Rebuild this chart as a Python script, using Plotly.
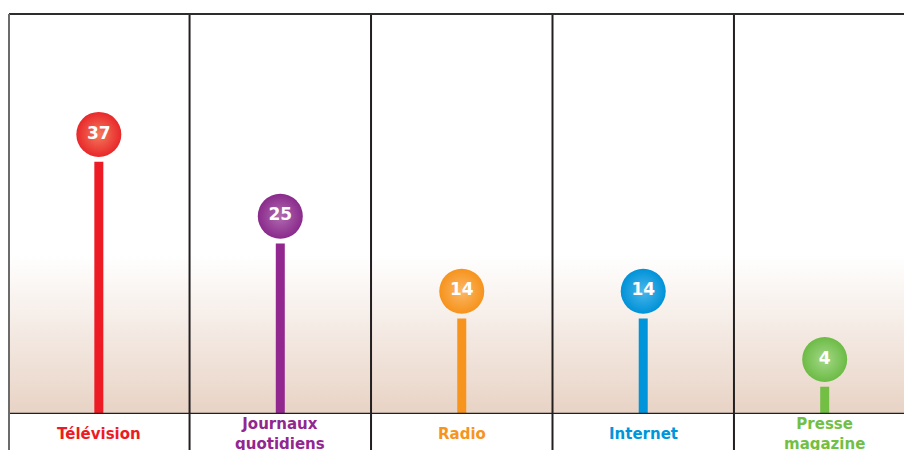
import plotly.graph_objects as go

categories = ["Télévision", "Journaux<br>quotidiens", "Radio", "Internet", "Presse<br>magazine"]
values = [37, 25, 14, 14, 4]
label_colors = ["#ed1c24", "#92278f", "#f7941d", "#0095da", "#72bf44"]
bubble_outer = ["#e8282a", "#8a2a8c", "#f6931c", "#0092d8", "#6cbb45"]
bubble_inner = ["#f47a5c", "#b06cb0", "#fbb867", "#4ab6ea", "#a4d888"]

BUBBLE_OFFSET = 4.0
Y_MAX = 58.65
GRAD_TOP = 23.3
x = list(range(len(categories)))

fig = go.Figure()

# background gradient
fig.add_trace(go.Scatter(
    x=[-0.6, 4.6, 4.6, -0.6, -0.6], y=[0, 0, GRAD_TOP, GRAD_TOP, 0],
    mode="lines", line=dict(width=0), fill="toself",
    fillgradient=dict(type="vertical", colorscale=[[0, "#e8d3c5"], [1, "rgba(255,255,255,1)"]]),
    hoverinfo="skip", showlegend=False,
))

# stems
for xi, v, col in zip(x, values, label_colors):
    fig.add_trace(go.Scatter(
        x=[xi, xi], y=[0, v], mode="lines",
        line=dict(color=col, width=9),
        hoverinfo="skip", showlegend=False,
    ))

# bubbles
fig.add_trace(go.Scatter(
    x=x, y=[v + BUBBLE_OFFSET for v in values],
    mode="markers+text",
    marker=dict(size=45, color=bubble_outer, symbol="circle",
                gradient=dict(type="radial", color=bubble_inner),
                line=dict(width=0)),
    text=[str(v) for v in values], textposition="middle center",
    textfont=dict(family="DejaVu Sans", size=17, color="white", weight="bold"),
    hoverinfo="skip", showlegend=False,
))

shapes = []
for i in range(len(categories) - 1):
    shapes.append(dict(type="line", xref="x", yref="paper", x0=i + 0.5, x1=i + 0.5,
                       y0=-0.2, y1=1, line=dict(color="#231f20", width=2)))
# baseline
shapes.append(dict(type="line", xref="paper", yref="y", x0=0, x1=1, y0=0, y1=0,
                   line=dict(color="#231f20", width=2.5)))
# top border
shapes.append(dict(type="line", xref="paper", yref="paper", x0=0, x1=1, y0=1, y1=1,
                   line=dict(color="#2d2d2d", width=2)))
# left border
shapes.append(dict(type="line", xref="paper", yref="paper", x0=0, x1=0, y0=-0.2, y1=1,
                   line=dict(color="#6b6b6b", width=2)))

annotations = []
for i, (c, col) in enumerate(zip(categories, label_colors)):
    annotations.append(dict(x=i, y=-0.051, xref="x", yref="paper", text=c,
                            showarrow=False, xanchor="center", yanchor="middle",
                            font=dict(family="DejaVu Sans", size=15, color=col, weight="bold"),
                            align="center"))

fig.update_layout(
    width=904, height=450,
    margin=dict(l=9, r=0, t=14, b=36),
    paper_bgcolor="white", plot_bgcolor="white",
    xaxis=dict(range=[-0.495, 4.437], showgrid=False, zeroline=False,
               showticklabels=False, ticks="", fixedrange=True),
    yaxis=dict(range=[0, Y_MAX], showgrid=False, zeroline=False,
               showticklabels=False, ticks="", fixedrange=True),
    shapes=shapes, annotations=annotations,
)

fig.write_html("out.html", config={"displayModeBar": False},
               post_script="document.body.style.margin='0';document.body.style.overflow='hidden';")
